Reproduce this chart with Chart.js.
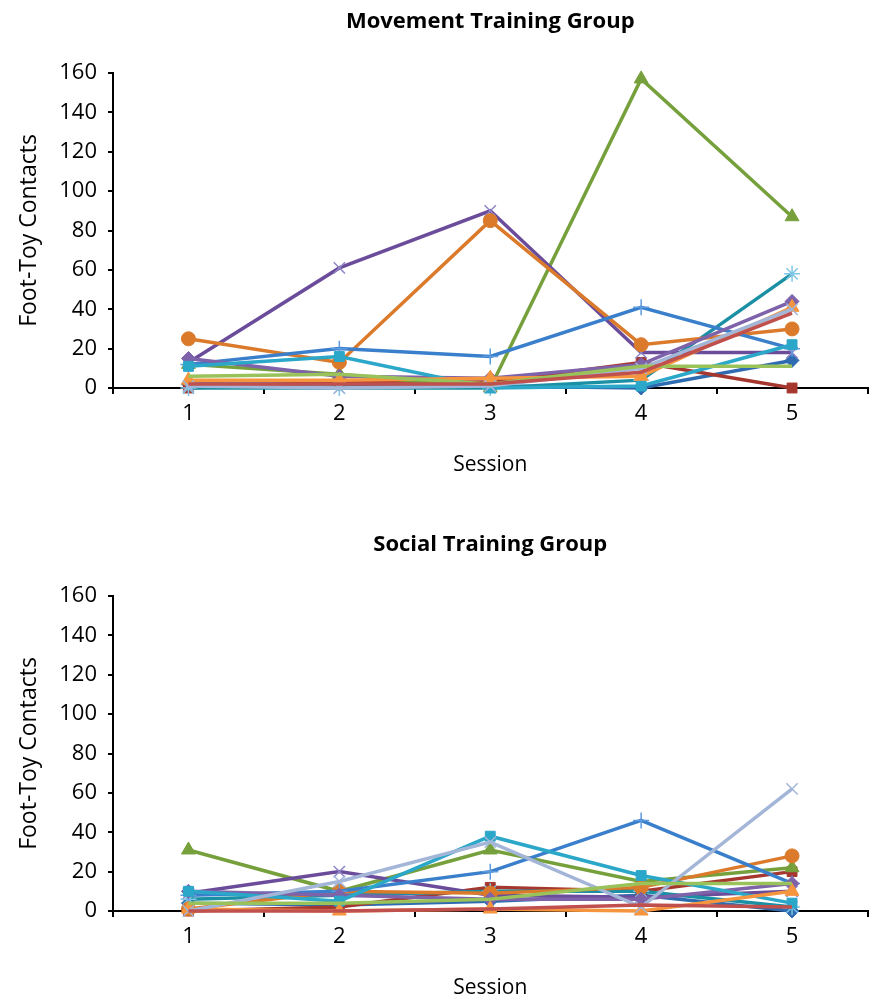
<!DOCTYPE html>
<html>
<head>
<meta charset="utf-8">
<script src="https://cdn.jsdelivr.net/npm/chart.js@4.4.1/dist/chart.umd.min.js"></script>
<style>
  body { margin:0; background:#fff; }
  .box { position:absolute; left:0; width:877px; height:479px; }
  #topBox { top:0; }
  #botBox { top:523px; }
</style>
</head>
<body>
<div class="box" id="topBox"><canvas id="moveChart"></canvas></div>
<div class="box" id="botBox"><canvas id="socialChart"></canvas></div>
<script>
// sessions on the x axis
const sessions = ['1', '2', '3', '4', '5'];
const yTicks = [0, 20, 40, 60, 80, 100, 120, 140, 160];

// Movement Training Group, one array per infant
const mvBlueDiamond    = [2, 2, 1, 0, 14];
const mvRedSquare      = [0, 3, 3, 13, 0];
const mvGreenTriangle  = [12, 7, 0, 157, 87];
const mvPurpleX        = [13, 61, 90, 18, 18];
const mvTealStar       = [0, 0, 0, 4, 58];
const mvOrangeCircle   = [25, 13, 85, 22, 30];
const mvBluePlus       = [12, 20, 16, 41, 20];
const mvPurpleDiamond  = [15, 6, 5, 12, 44];
const mvTealSquare     = [11, 16, 0, 1, 22];
const mvOrangeTriangle = [4, 4, 5, 6, 41];
const mvLightBlue      = [1, 0, 1, 10, 40];
const mvGreenLine      = [6, 7, 2, 11, 11];
const mvRedLine        = [2, 2, 2, 8, 38];

// Social Training Group
const soBlueDiamond    = [4, 3, 5, 8, 0];
const soRedSquare      = [0, 2, 12, 10, 20];
const soGreenTriangle  = [31, 10, 31, 15, 22];
const soPurpleX        = [9, 20, 8, 7, 10];
const soTealStar       = [6, 8, 10, 10, 2];
const soOrangeCircle   = [1, 10, 9, 12, 28];
const soBluePlus       = [8, 10, 20, 46, 14];
const soPurpleDiamond  = [10, 8, 6, 6, 14];
const soTealSquare     = [10, 5, 38, 18, 4];
const soOrangeTriangle = [1, 0, 1, 0, 10];
const soLightBlue      = [0, 15, 35, 2, 62];
const soGreenLine      = [4, 4, 6, 14, 14];
const soRedLine        = [0, 0, 1, 3, 2];

// look of each series (same order as the arrays above)
const styles = [
  { color:'#2E6BB0', marker:'rectRot', r:7 },
  { color:'#A5372F', marker:'rect', r:7 },
  { color:'#76A03C', marker:'triangle', r:8 },
  { color:'#6B4C9A', marker:'crossRot', r:8, pt:'#8F86C8' },
  { color:'#1B8FA3', marker:'star', r:8, pt:'#7FC6E6' },
  { color:'#DB7A2B', marker:'circle', r:7 },
  { color:'#3A7FCB', marker:'cross', r:8, pt:'#5C9BE0' },
  { color:'#7E62AA', marker:'rectRot', r:7 },
  { color:'#2BA7C9', marker:'rect', r:7 },
  { color:'#F5953E', marker:'triangle', r:8 },
  { color:'#A3B6D8', marker:'crossRot', r:8 },
  { color:'#9AC25A', marker:false, r:0 },
  { color:'#C0504D', marker:false, r:0 }
];

const FONT = '"Open Sans", "DejaVu Sans", sans-serif';

function makeSets(series){
  const n = series.length;
  return series.map((vals, i) => {
    const s = styles[i];
    const lineMarker = ['cross','crossRot','star'].includes(s.marker);
    const pc = s.pt || s.color;
    return {
      data: vals,
      borderColor: s.color,
      backgroundColor: s.color,
      borderWidth: 3.5,
      pointStyle: s.marker,
      pointRadius: s.r,
      pointBorderWidth: lineMarker ? 1.5 : 1,
      pointBorderColor: pc,
      pointBackgroundColor: pc,
      tension: 0,
      clip: false,
      order: n - i
    };
  });
}

// title drawn over the middle of the plot area
const plotTitle = {
  id: 'plotTitle',
  afterDraw(chart, args, opts){
    const { ctx, chartArea } = chart;
    ctx.save();
    ctx.font = 'bold 22px ' + FONT;
    ctx.fillStyle = '#000';
    ctx.textAlign = 'center';
    ctx.textBaseline = 'middle';
    ctx.fillText(opts.text, (chartArea.left + chartArea.right) / 2, 22);
    ctx.restore();
  }
};

function buildChart(id, title, series){
  const ctx = document.getElementById(id).getContext('2d');
  return new Chart(ctx, {
    type: 'line',
    data: { labels: sessions, datasets: makeSets(series) },
    plugins: [plotTitle],
    options: {
      responsive: true,
      maintainAspectRatio: false,
      animation: false,
      layout: { padding: { top: 73, right: 5, left: 0, bottom: 0 } },
      plugins: {
        legend: { display: false },
        tooltip: { enabled: false },
        plotTitle: { text: title }
      },
      scales: {
        x: {
          offset: true,
          afterFit: s => { s.height = 91; },
          border: { color: '#000', width: 2 },
          grid: { display: true, drawOnChartArea: false, drawTicks: true, tickLength: 6, offset: true, color: '#000', lineWidth: 2 },
          ticks: { color: '#000', padding: 7, font: { family: FONT, size: 22 } },
          title: { display: true, text: 'Session', color: '#000', padding: { top: 0, bottom: 1 }, font: { family: FONT, size: 21 } }
        },
        y: {
          min: 0, max: 160,
          afterFit: s => { s.width = 113; },
          afterBuildTicks: s => { s.ticks = yTicks.map(v => ({ value: v })); },
          border: { color: '#000', width: 2 },
          grid: { display: true, drawOnChartArea: false, drawTicks: true, tickLength: 5, color: '#000', lineWidth: 2 },
          ticks: { color: '#000', padding: 11, font: { family: FONT, size: 22 } },
          title: { display: true, text: 'Foot-Toy Contacts', color: '#000', padding: { top: 16, bottom: 0 }, font: { family: FONT, size: 23 } }
        }
      }
    }
  });
}

buildChart('moveChart', 'Movement Training Group', [
  mvBlueDiamond, mvRedSquare, mvGreenTriangle, mvPurpleX, mvTealStar, mvOrangeCircle,
  mvBluePlus, mvPurpleDiamond, mvTealSquare, mvOrangeTriangle, mvLightBlue, mvGreenLine, mvRedLine
]);
buildChart('socialChart', 'Social Training Group', [
  soBlueDiamond, soRedSquare, soGreenTriangle, soPurpleX, soTealStar, soOrangeCircle,
  soBluePlus, soPurpleDiamond, soTealSquare, soOrangeTriangle, soLightBlue, soGreenLine, soRedLine
]);
</script>
</body>
</html>
